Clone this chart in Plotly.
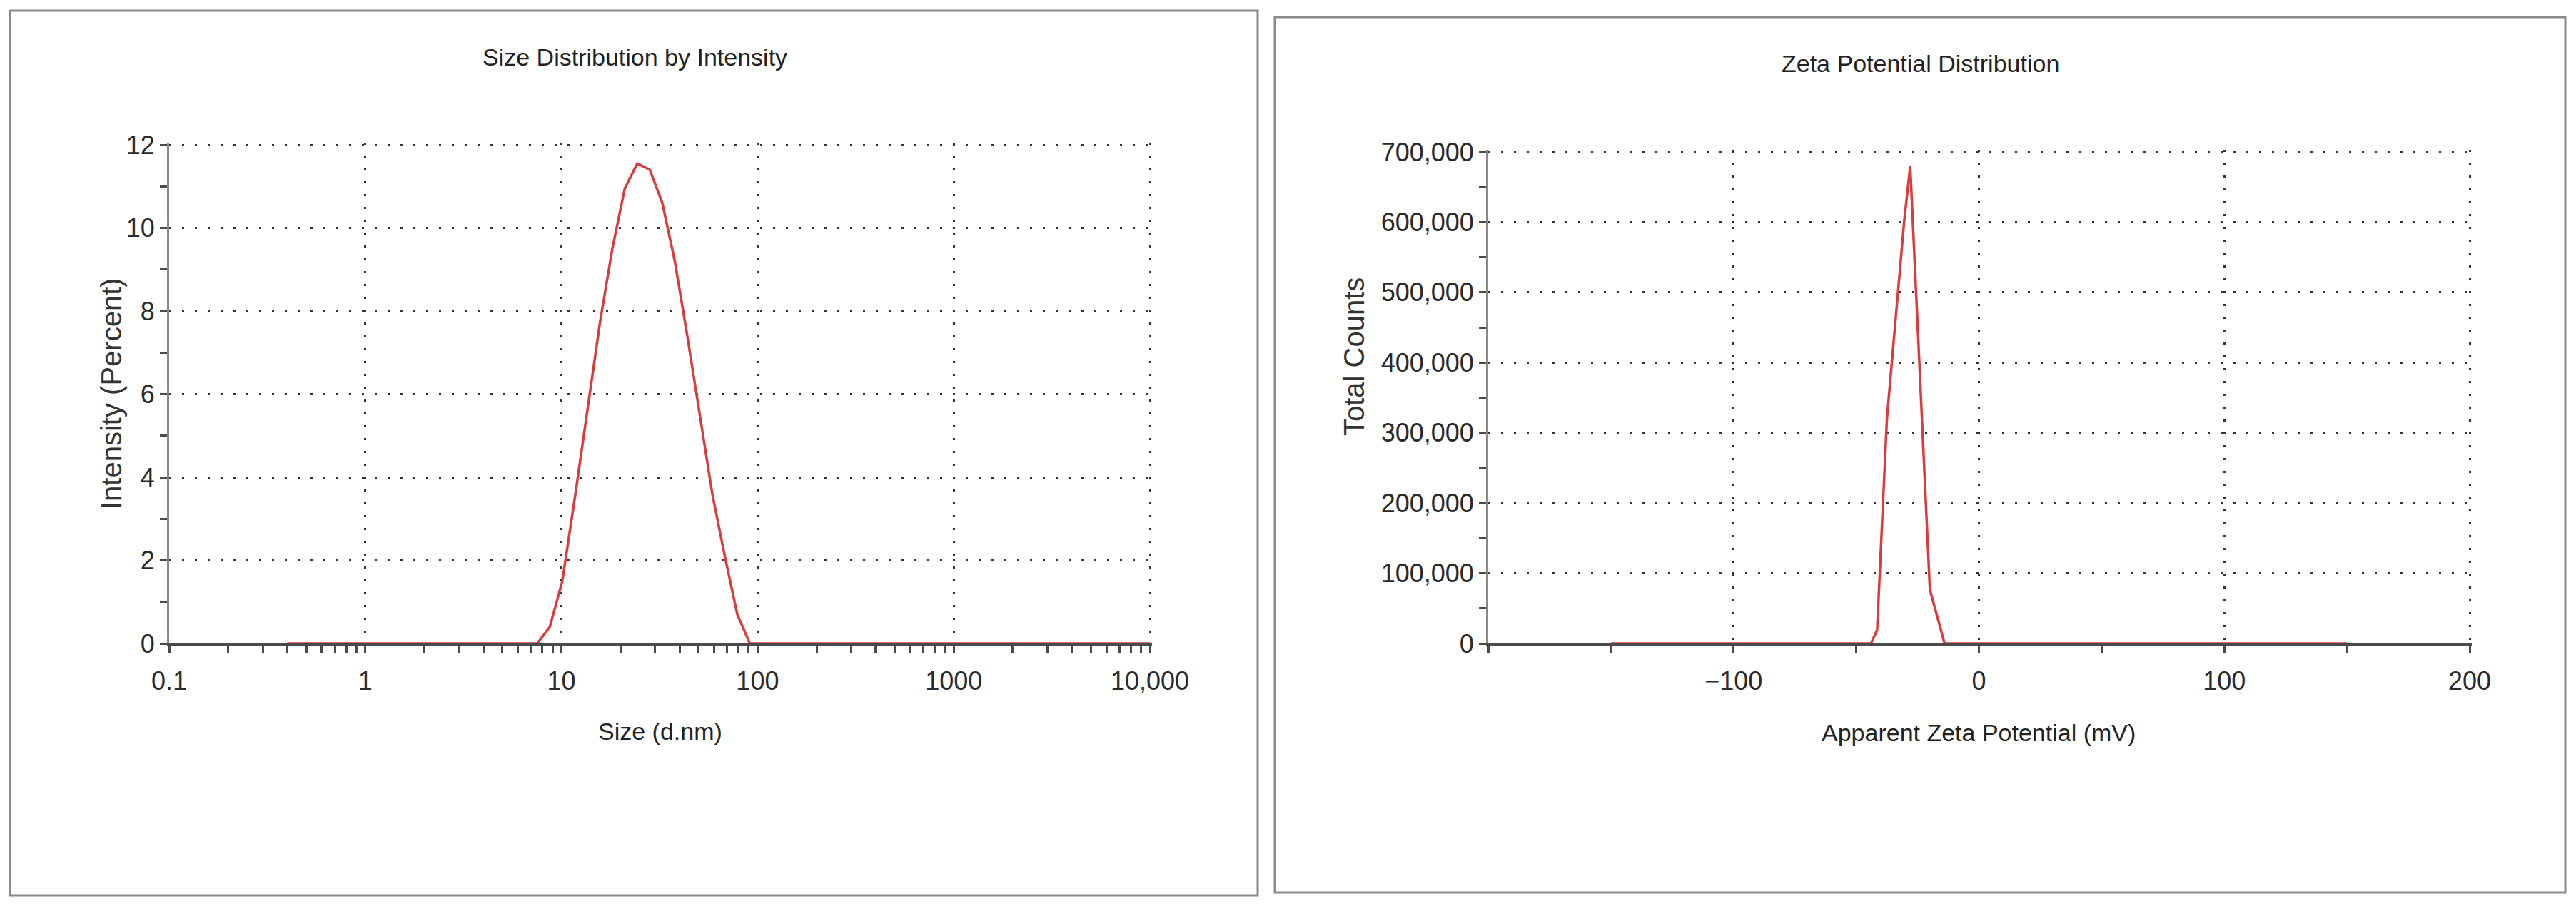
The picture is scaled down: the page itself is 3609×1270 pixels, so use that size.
import plotly.graph_objects as go

# ---------------- data ----------------
size_nm = [0.4, 6.503, 7.531, 8.721, 10.10, 11.70, 13.54, 15.69, 18.17, 21.04, 24.36,
           28.21, 32.67, 37.84, 43.82, 50.75, 58.77, 68.06, 78.82, 91.28, 105.7, 10000]
intensity_pct = [0, 0, 0, 0.4, 1.5, 3.5, 5.6, 7.7, 9.5, 10.95, 11.55,
                 11.4, 10.6, 9.2, 7.4, 5.5, 3.6, 2.1, 0.7, 0, 0, 0]

zeta_mv = [-150, -44, -41.5, -37.5, -33, -30.5, -28, -24, -20, -14, 150]
total_counts = [0, 0, 19000, 320000, 500000, 600000, 680000, 380000, 77000, 0, 0]

size_tickvals = [0.1, 1, 10, 100, 1000, 10000]
size_ticktext = ["0.1", "1", "10", "100", "1000", "10,000"]
size_minor = [m * d for d in [0.1, 1, 10, 100, 1000] for m in range(2, 10)]

int_tickvals = [0, 2, 4, 6, 8, 10, 12]
int_ticktext = ["0", "2", "4", "6", "8", "10", "12"]
int_minor = [1, 3, 5, 7, 9, 11]

zeta_tickvals = [-100, 0, 100, 200]
zeta_ticktext = ["\u2212100", "0", "100", "200"]
zeta_minor = [-200, -150, -50, 50, 150]

count_tickvals = [0, 100000, 200000, 300000, 400000, 500000, 600000, 700000]
count_ticktext = ["0", "100,000", "200,000", "300,000", "400,000", "500,000", "600,000", "700,000"]
count_minor = [50000, 150000, 250000, 350000, 450000, 550000, 650000]

# ---------------- layout helpers ----------------
W, H = 3609, 1270
def px(x):
    return x / W
def py(y):
    return 1 - y / H

FONT = "Liberation Sans, Arial, sans-serif"
RED = "#dc3b3b"
AX = "#4a4a4a"
GRID = "#333333"

tickfont = dict(family=FONT, size=36, color="#2a2a2a")

# ranges slightly extended so the gridlines at the top / right limits are drawn
size_range = [-1, 4.012]
int_range = [0, 12.06]
zeta_range = [-200, 201]
count_range = [0, 703500]

L_x0, L_x1 = 237, 1611 + 0.012 * 274.8
L_y0, L_y1 = 902, 203 - 0.06 * 699 / 12
R_x0, R_x1 = 2085, 3460 + 1 * 1375 / 400
R_y0, R_y1 = 902, 213 - 3500 * 689 / 700000

fig = go.Figure()
fig.add_trace(go.Scatter(x=size_nm, y=intensity_pct, mode="lines",
                         line=dict(color=RED, width=3.5), xaxis="x", yaxis="y",
                         name="Intensity"))
fig.add_trace(go.Scatter(x=zeta_mv, y=total_counts, mode="lines",
                         line=dict(color=RED, width=3.5), xaxis="x2", yaxis="y2",
                         name="Total Counts"))

common_x = dict(showgrid=True, gridcolor=GRID, gridwidth=3, griddash="3px,15px",
                showline=True, linecolor=AX, linewidth=4, zeroline=False,
                ticks="outside", ticklen=10, tickwidth=3, tickcolor=AX,
                tickfont=tickfont, ticklabelstandoff=8, automargin=False)
common_y = dict(showgrid=True, gridcolor=GRID, gridwidth=3, griddash="3px,15px",
                showline=True, linecolor="#888888", linewidth=3, zeroline=False,
                ticks="outside", ticklen=10, tickwidth=3, tickcolor=AX,
                tickfont=tickfont, automargin=False)
inner = dict(showgrid=False, showline=False, zeroline=False, showticklabels=False,
             ticks="inside", ticklen=10, tickwidth=3, tickcolor=AX, tickmode="array",
             automargin=False)

fig.update_layout(
    width=W, height=H,
    margin=dict(l=0, r=0, t=0, b=0, pad=0, autoexpand=False),
    paper_bgcolor="white", plot_bgcolor="white",
    showlegend=False,
    xaxis=dict(domain=[px(L_x0), px(L_x1)], type="log", range=size_range, anchor="y",
               tickmode="array", tickvals=size_tickvals, ticktext=size_ticktext,
               minor=dict(tickmode="array", tickvals=size_minor, ticks="outside",
                          ticklen=10, tickwidth=3, tickcolor=AX, showgrid=False),
               **common_x),
    yaxis=dict(domain=[py(L_y0), py(L_y1)], range=int_range, anchor="x",
               tickmode="array", tickvals=int_tickvals, ticktext=int_ticktext,
               minor=dict(tickmode="array", tickvals=int_minor, ticks="outside",
                          ticklen=10, tickwidth=3, tickcolor=AX, showgrid=False),
               **common_y),
    xaxis2=dict(domain=[px(R_x0), px(R_x1)], range=zeta_range, anchor="y2",
                tickmode="array", tickvals=zeta_tickvals, ticktext=zeta_ticktext,
                minor=dict(tickmode="array", tickvals=zeta_minor, ticks="outside",
                           ticklen=10, tickwidth=3, tickcolor=AX, showgrid=False),
                **common_x),
    yaxis2=dict(domain=[py(R_y0), py(R_y1)], range=count_range, anchor="x2",
                tickmode="array", tickvals=count_tickvals, ticktext=count_ticktext,
                minor=dict(tickmode="array", tickvals=count_minor, ticks="outside",
                           ticklen=10, tickwidth=3, tickcolor=AX, showgrid=False),
                **common_y),
    # overlay axes: the inner half of the crossing tick marks
    xaxis3=dict(overlaying="x", anchor="y", type="log", range=size_range,
                tickvals=size_tickvals + size_minor, **inner),
    yaxis3=dict(overlaying="y", anchor="x", range=int_range,
                tickvals=int_minor, **inner),
    xaxis4=dict(overlaying="x2", anchor="y2", range=zeta_range,
                tickvals=zeta_tickvals + zeta_minor, **inner),
    yaxis4=dict(overlaying="y2", anchor="x2", range=count_range,
                tickvals=count_minor, **inner),
)

# panel frames
fig.add_shape(type="rect", xref="paper", yref="paper",
              x0=px(14), x1=px(1762), y0=py(1255), y1=py(15),
              line=dict(color="#8a8a8a", width=3), layer="below")
fig.add_shape(type="rect", xref="paper", yref="paper",
              x0=px(1786), x1=px(3594), y0=py(1251), y1=py(24),
              line=dict(color="#8a8a8a", width=3), layer="below")

ann = [
    dict(text="Size Distribution by Intensity", x=px(889), y=py(80), font=dict(family=FONT, size=34, color="#222")),
    dict(text="Zeta Potential Distribution", x=px(2690), y=py(89), font=dict(family=FONT, size=34, color="#222")),
    dict(text="Size (d.nm)", x=px(925), y=py(1025), font=dict(family=FONT, size=34, color="#222")),
    dict(text="Apparent Zeta Potential (mV)", x=px(2772), y=py(1027), font=dict(family=FONT, size=34, color="#222")),
    dict(text="Intensity (Percent)", x=px(156), y=py(552), textangle=-90, font=dict(family=FONT, size=40, color="#333")),
    dict(text="Total Counts", x=px(1897), y=py(500), textangle=-90, font=dict(family=FONT, size=40, color="#333")),
]
for a in ann:
    fig.add_annotation(xref="paper", yref="paper", showarrow=False,
                       xanchor="center", yanchor="middle", **a)

fig.write_html("out.html", config={"displayModeBar": False},
               post_script="document.body.style.margin='0px';document.body.style.overflow='hidden';")
